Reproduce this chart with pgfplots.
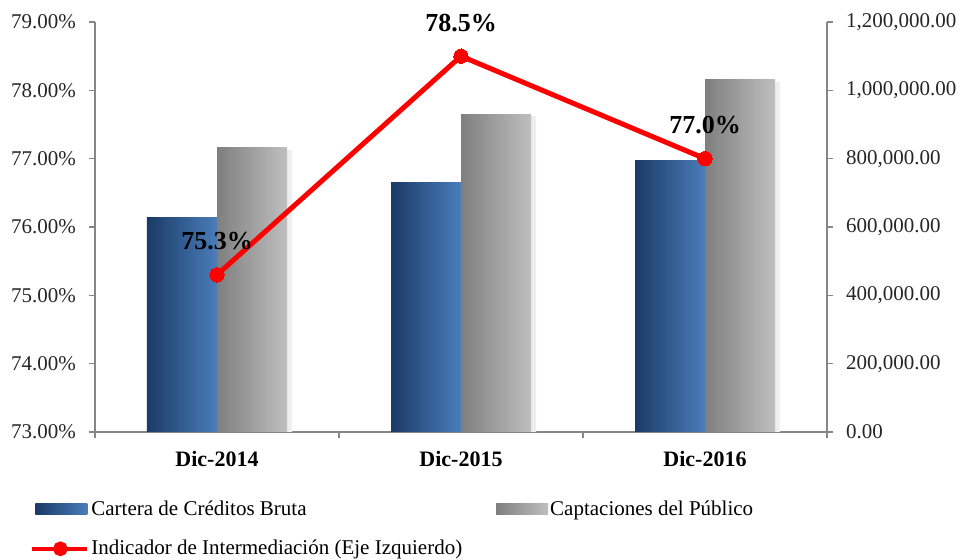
\documentclass[border=0pt]{standalone}
\usepackage{fontspec}
\setmainfont{Liberation Serif}
\usepackage{pgfplots}
\pgfplotsset{compat=1.18}
\usetikzlibrary{calc}
\definecolor{axgray}{HTML}{868686}
\definecolor{blueL}{HTML}{1B3A66}
\definecolor{blueR}{HTML}{4A7DBA}
\definecolor{grayL}{HTML}{7F7F7F}
\definecolor{grayR}{HTML}{BFBFBF}
\definecolor{txt}{HTML}{262626}
\begin{document}
\begin{tikzpicture}
\pgfplotsset{
  common/.style={
    scale only axis, width=366pt, height=205pt,
    xmin=-0.5, xmax=2.5,
    font=\fontsize{10.5}{12}\selectfont,
    /pgf/number format/assume math mode=true,
    tick style={axgray, line width=0.6pt},
    tick align=outside,
    major tick length=3pt,
    axis line style={axgray, line width=0.6pt},
    tick label style={text=txt},
  },
  bluebar/.style={ybar, bar width=35pt, bar shift=-17.5pt, draw=none, left color=blueL, right color=blueR},
  graybar/.style={ybar, bar width=35pt, bar shift=17.5pt, draw=none, left color=grayL, right color=grayR},
  shadowbar/.style={ybar, bar width=35pt, bar shift=20pt, draw=none, left color=black!22, right color=black!6},
}
\begin{axis}[common,
  axis y line*=right, axis x line*=bottom,
  ymin=0, ymax=1200000,
  ytick={0,200000,400000,600000,800000,1000000,1200000},
  scaled y ticks=false,
  yticklabel style={/pgf/number format/fixed, /pgf/number format/precision=2,
    /pgf/number format/fixed zerofill, /pgf/number format/1000 sep={,}, xshift=3pt},
  xtick={-0.5,0.5,1.5,2.5}, xticklabels={},
  extra x ticks={0,1,2}, extra x tick labels={Dic-2014,Dic-2015,Dic-2016},
  extra x tick style={major tick length=0pt,
    tick label style={font=\fontsize{11}{13}\selectfont\bfseries, text=black, yshift=-6pt}},
]
\coordinate (SW) at (rel axis cs:0,0);
\coordinate (NE) at (rel axis cs:1,1);
% shadows
\addplot[shadowbar] coordinates {(0,825000)};
\addplot[shadowbar] coordinates {(1,922000)};
\addplot[shadowbar] coordinates {(2,1024000)};
% Cartera de Creditos Bruta
\addplot[bluebar] coordinates {(0,629000)};
\addplot[bluebar] coordinates {(1,731000)};
\addplot[bluebar] coordinates {(2,795000)};
% Captaciones del Publico
\addplot[graybar] coordinates {(0,833000)};
\addplot[graybar] coordinates {(1,930000)};
\addplot[graybar] coordinates {(2,1032000)};
\end{axis}
\begin{axis}[common,
  axis y line*=left, axis x line=none,
  ymin=73, ymax=79, ytick={73,74,75,76,77,78,79},
  yticklabel={\pgfmathprintnumber[fixed,precision=2,fixed zerofill]{\tick}\%},
  yticklabel style={xshift=-3pt},
  legend columns=2,
  legend cell align=left,
  legend style={at={(0,0)}, anchor=north west, xshift=-32.5pt, yshift=-33pt,
    draw=none, fill=none, inner sep=0pt, row sep=9pt,
    font=\fontsize{10.5}{12}\selectfont,
    nodes={inner xsep=1pt, inner ysep=1pt},
    /tikz/every even column/.append style={column sep=16pt}},
]
\addlegendimage{legend image code/.code={\shade[draw=none,left color=blueL,right color=blueR] (0pt,-2.75pt) rectangle (26pt,2.75pt);}}
\addlegendentry{Cartera de Créditos Bruta}
\addlegendimage{legend image code/.code={\shade[draw=none,left color=grayL,right color=grayR] (0pt,-2.75pt) rectangle (26pt,2.75pt);}}
\addlegendentry{Captaciones del Público}
\addplot[red, line width=2.5pt, mark=*, mark size=3.6pt, mark options={fill=red, draw=red, line width=0pt},
  legend image code/.code={\draw[red,line width=2pt] (-1.5pt,0pt) -- (26pt,0pt); \fill[red] (12.5pt,0pt) circle (2.4pt);},
  nodes near coords={\pgfmathprintnumber[fixed,precision=1,fixed zerofill]{\pgfplotspointmeta}\%},
  nodes near coords style={font=\fontsize{13}{15}\selectfont\bfseries, text=black, yshift=9pt}]
  coordinates {(0,75.3) (1,78.5) (2,77.0)};
\addlegendentry{Indicador de Intermediación (Eje Izquierdo)}
\end{axis}
\pgfresetboundingbox
\path ($(SW)+(-47.5pt,-64pt)$) rectangle ($(NE)+(67.5pt,11pt)$);
\end{tikzpicture}
\end{document}
